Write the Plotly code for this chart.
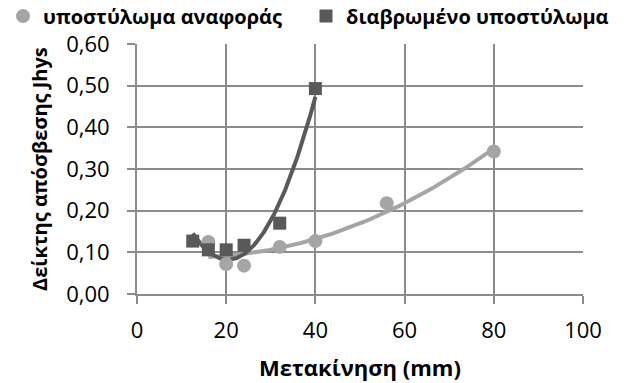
import numpy as np
import plotly.graph_objects as go

# Data
ref_x = [16, 20, 24, 32, 40, 56, 80]
ref_y = [0.125, 0.072, 0.068, 0.113, 0.127, 0.218, 0.342]
cor_x = [12.5, 16, 20, 24, 32, 40]
cor_y = [0.127, 0.106, 0.106, 0.117, 0.170, 0.493]

ref_name = "υποστύλωμα αναφοράς"
cor_name = "διαβρωμένο υποστύλωμα"
x_title = "Μετακίνηση (mm)"
y_title = "Δείκτης απόσβεσης Jhys"
x_ticks = [0, 20, 40, 60, 80, 100]
y_ticks = [0.0, 0.1, 0.2, 0.3, 0.4, 0.5, 0.6]

C_REF = "#A5A5A5"
C_COR = "#595959"
GRID = "#8C8C8C"
FONT = "Open Sans"

ML, MR, MT, MB = 137, 54, 43.5, 89
W, H = 637, 383
PW = W - ML - MR
PH = H - MT - MB


def px_x(px):
    return (px - ML) / PW


def px_y(py):
    return 1 + (MT - py) / PH


def trend(xs, ys, deg=2, n=120):
    c = np.polyfit(xs, ys, deg)
    xx = np.linspace(min(xs), max(xs), n)
    return xx, np.polyval(c, xx)


tx, ty = trend(ref_x, ref_y)
tx2, ty2 = trend(cor_x, cor_y)

fig = go.Figure()
fig.add_trace(go.Scatter(x=tx, y=ty, mode="lines", showlegend=False, hoverinfo="skip",
                         line=dict(color=C_REF, width=4)))
fig.add_trace(go.Scatter(x=tx2, y=ty2, mode="lines", showlegend=False, hoverinfo="skip",
                         line=dict(color=C_COR, width=4)))
fig.add_trace(go.Scatter(x=ref_x, y=ref_y, mode="markers", name=ref_name, legend="legend",
                         marker=dict(symbol="circle", size=14, color=C_REF)))
fig.add_trace(go.Scatter(x=cor_x, y=cor_y, mode="markers", name=cor_name, legend="legend2",
                         marker=dict(symbol="square", size=13, color=C_COR)))

leg_font = dict(family=FONT, size=20, color="#000000", weight="bold")
leg_common = dict(orientation="h", xanchor="left", yanchor="top", yref="paper", xref="paper",
                  itemwidth=30, font=leg_font, bgcolor="rgba(0,0,0,0)", borderwidth=0)

fig.update_layout(
    width=W, height=H,
    margin=dict(l=ML, r=MR, t=MT, b=MB, autoexpand=False),
    paper_bgcolor="white", plot_bgcolor="white",
    font=dict(family=FONT, size=22, color="#000000"),
    showlegend=True,
    legend=dict(x=px_x(3), y=px_y(-4), **leg_common),
    legend2=dict(x=px_x(306), y=px_y(-4), **leg_common),
)

fig.update_xaxes(range=[0, 100], tickvals=x_ticks, ticktext=[str(v) for v in x_ticks],
                 showgrid=True, gridcolor=GRID, gridwidth=2,
                 showline=True, linecolor=GRID, linewidth=2,
                 ticks="outside", ticklen=8, tickwidth=2, tickcolor=GRID,
                 ticklabelstandoff=8, zeroline=False, automargin=False)
fig.update_yaxes(range=[0, 0.6], tickvals=y_ticks,
                 ticktext=[f"{v:.2f}".replace(".", ",") for v in y_ticks],
                 showgrid=True, gridcolor=GRID, gridwidth=2,
                 showline=True, linecolor=GRID, linewidth=2,
                 ticks="outside", ticklen=8, tickwidth=2, tickcolor=GRID,
                 ticklabelstandoff=13, zeroline=False, automargin=False)

fig.add_annotation(text="<b>" + y_title + "</b>", xref="paper", yref="paper",
                   x=0, y=0.5, xanchor="center", yanchor="middle", xshift=39 - ML,
                   textangle=-90, showarrow=False, font=dict(family=FONT, size=20))
fig.add_annotation(text="<b>" + x_title + "</b>", xref="paper", yref="paper",
                   x=0.5, y=0, xanchor="center", yanchor="middle", yshift=-73,
                   showarrow=False, font=dict(family=FONT, size=22))

fig.write_html("out.html", config={"displayModeBar": False},
               post_script="document.body.style.margin='0px';")
